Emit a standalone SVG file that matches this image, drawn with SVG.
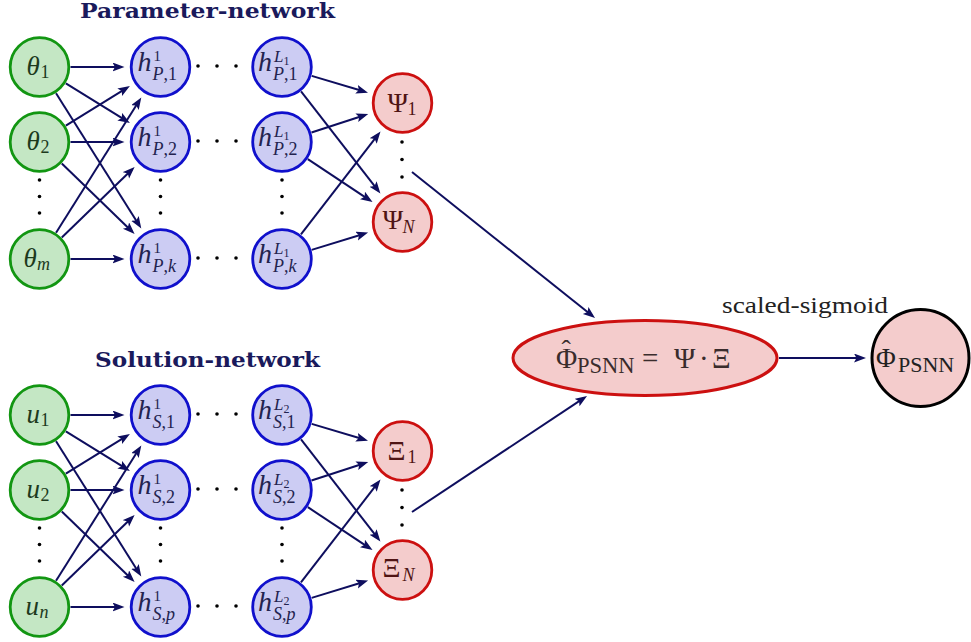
<svg xmlns="http://www.w3.org/2000/svg" width="971" height="642" viewBox="0 0 971 642">
  <defs>
    <style>
      text { font-family: "Liberation Serif", "DejaVu Serif", serif; }
      .title { font-family: "DejaVu Serif", "Liberation Serif", serif; font-weight: bold; font-size: 20.5px; fill: #1a1a5c; }
      .in circle { fill: #c4e7c4; stroke: #129612; stroke-width: 2.8; }
      .in text { fill: #1d3a1d; }
      .hid circle { fill: #ccccf3; stroke: #1010cc; stroke-width: 2.8; }
      .hid text { fill: #23234f; }
      .out circle { fill: #f4cccc; stroke: #cc1010; stroke-width: 2.8; }
      .out text { fill: #4f1414; }
      .i { font-style: italic; }
      .big { font-size: 28px; }
      .mid { font-size: 27px; }
      .sub { font-size: 18px; }
      .sup { font-size: 15px; }
      .supL { font-size: 17px; }
      .tiny { font-size: 12px; }
      .edges line { stroke: #0e0e5e; stroke-width: 2; marker-end: url(#ah); }
      .dots circle { fill: #000; }
      .lbl { font-size: 24px; fill: #222; }
    </style>
    <marker id="ah" markerUnits="userSpaceOnUse" markerWidth="14" markerHeight="10" viewBox="0 0 14 10" refX="8" refY="4.5" orient="auto">
      <path d="M0,0 L12,4.5 L0,9 L2.5,4.5 z" fill="#0e0e5e"/>
    </marker>
  </defs>

  <!-- section titles -->
  <text class="title" x="80" y="18" textLength="255" lengthAdjust="spacingAndGlyphs">Parameter-network</text>
  <text class="title" x="95" y="366.5" textLength="225" lengthAdjust="spacingAndGlyphs">Solution-network</text>

  <!-- connectors -->
  <g id="connectors" class="edges">
    <g id="param-edges">
      <line x1="70.5" y1="67" x2="120.5" y2="67"/>
      <line x1="65.85" y1="83.33" x2="126.5" y2="120.93"/>
      <line x1="56.03" y1="93.23" x2="139.17" y2="225.16"/>
      <line x1="65.85" y1="125.67" x2="126.5" y2="88.07"/>
      <line x1="70.5" y1="142" x2="120.5" y2="142"/>
      <line x1="61.79" y1="163.55" x2="131.74" y2="231.2"/>
      <line x1="56.03" y1="232.77" x2="139.17" y2="100.84"/>
      <line x1="61.79" y1="237.45" x2="131.74" y2="169.8"/>
      <line x1="70.5" y1="259" x2="120.5" y2="259"/>
      <line x1="311.7" y1="75.87" x2="364.17" y2="91.55"/>
      <line x1="301.03" y1="91.47" x2="377.95" y2="190.42"/>
      <line x1="311.49" y1="132.45" x2="364.44" y2="115.32"/>
      <line x1="307.83" y1="159.15" x2="369.18" y2="199.88"/>
      <line x1="300.95" y1="234.47" x2="378.05" y2="134.66"/>
      <line x1="311.64" y1="249.9" x2="364.26" y2="233.74"/>
    </g>
    <g id="solution-edges" transform="translate(0,348)">
      <line x1="70.5" y1="67" x2="120.5" y2="67"/>
      <line x1="65.85" y1="83.33" x2="126.5" y2="120.93"/>
      <line x1="56.03" y1="93.23" x2="139.17" y2="225.16"/>
      <line x1="65.85" y1="125.67" x2="126.5" y2="88.07"/>
      <line x1="70.5" y1="142" x2="120.5" y2="142"/>
      <line x1="61.79" y1="163.55" x2="131.74" y2="231.2"/>
      <line x1="56.03" y1="232.77" x2="139.17" y2="100.84"/>
      <line x1="61.79" y1="237.45" x2="131.74" y2="169.8"/>
      <line x1="70.5" y1="259" x2="120.5" y2="259"/>
      <line x1="311.7" y1="75.87" x2="364.17" y2="91.55"/>
      <line x1="301.03" y1="91.47" x2="377.95" y2="190.42"/>
      <line x1="311.49" y1="132.45" x2="364.44" y2="115.32"/>
      <line x1="307.83" y1="159.15" x2="369.18" y2="199.88"/>
      <line x1="300.95" y1="234.47" x2="378.05" y2="134.66"/>
      <line x1="311.64" y1="249.9" x2="364.26" y2="233.74"/>
    </g>
    <g id="merge-edges">
      <line x1="412" y1="172" x2="591.9" y2="315.5"/>
      <line x1="412" y1="512" x2="583.7" y2="398.2"/>
      <line x1="779" y1="358" x2="862" y2="358"/>
      <text class="lbl" x="722" y="313" textLength="166" lengthAdjust="spacingAndGlyphs">scaled-sigmoid</text>
    </g>
  </g>

  <!-- ellipsis dots -->
  <g id="dots" class="dots">
    <circle cx="198" cy="66" r="1.8"/><circle cx="217" cy="66" r="1.8"/><circle cx="236" cy="66" r="1.8"/>
    <circle cx="198" cy="141" r="1.8"/><circle cx="217" cy="141" r="1.8"/><circle cx="236" cy="141" r="1.8"/>
    <circle cx="198" cy="258" r="1.8"/><circle cx="217" cy="258" r="1.8"/><circle cx="236" cy="258" r="1.8"/>
    <circle cx="39.5" cy="180" r="1.8"/><circle cx="39.5" cy="196.5" r="1.8"/><circle cx="39.5" cy="213" r="1.8"/>
    <circle cx="160.5" cy="180" r="1.8"/><circle cx="160.5" cy="196.5" r="1.8"/><circle cx="160.5" cy="213" r="1.8"/>
    <circle cx="282" cy="180" r="1.8"/><circle cx="282" cy="196.5" r="1.8"/><circle cx="282" cy="213" r="1.8"/>
    <circle cx="402" cy="142" r="1.8"/><circle cx="402" cy="159.5" r="1.8"/><circle cx="402" cy="177" r="1.8"/>

    <circle cx="198" cy="414" r="1.8"/><circle cx="217" cy="414" r="1.8"/><circle cx="236" cy="414" r="1.8"/>
    <circle cx="198" cy="489" r="1.8"/><circle cx="217" cy="489" r="1.8"/><circle cx="236" cy="489" r="1.8"/>
    <circle cx="198" cy="606" r="1.8"/><circle cx="217" cy="606" r="1.8"/><circle cx="236" cy="606" r="1.8"/>
    <circle cx="39.5" cy="528" r="1.8"/><circle cx="39.5" cy="544.5" r="1.8"/><circle cx="39.5" cy="561" r="1.8"/>
    <circle cx="160.5" cy="528" r="1.8"/><circle cx="160.5" cy="544.5" r="1.8"/><circle cx="160.5" cy="561" r="1.8"/>
    <circle cx="282" cy="528" r="1.8"/><circle cx="282" cy="544.5" r="1.8"/><circle cx="282" cy="561" r="1.8"/>
    <circle cx="402" cy="490" r="1.8"/><circle cx="402" cy="507.5" r="1.8"/><circle cx="402" cy="525" r="1.8"/>
  </g>

  <!-- parameter-network inputs -->
  <g id="theta1" class="in" transform="translate(39.5,67)"><circle r="29.3"/><text><tspan class="mid i" x="-13" y="8">θ</tspan><tspan class="sub" x="1" y="11">1</tspan></text></g>
  <g id="theta2" class="in" transform="translate(39.5,142)"><circle r="29.3"/><text><tspan class="mid i" x="-13" y="8">θ</tspan><tspan class="sub" x="1" y="11">2</tspan></text></g>
  <g id="thetam" class="in" transform="translate(39.5,259)"><circle r="29.3"/><text><tspan class="mid i" x="-16" y="8">θ</tspan><tspan class="sub i" x="-2.5" y="11">m</tspan></text></g>

  <!-- parameter-network first hidden layer -->
  <g id="hP1_1" class="hid" transform="translate(160.5,67)"><circle r="29.3"/><text><tspan class="big i" x="-23" y="4">h</tspan><tspan class="sup" x="-7" y="-6">1</tspan><tspan class="sub i" x="-8" y="13">P</tspan><tspan class="sub">,1</tspan></text></g>
  <g id="hP1_2" class="hid" transform="translate(160.5,142)"><circle r="29.3"/><text><tspan class="big i" x="-23" y="4">h</tspan><tspan class="sup" x="-7" y="-6">1</tspan><tspan class="sub i" x="-8" y="13">P</tspan><tspan class="sub">,2</tspan></text></g>
  <g id="hP1_k" class="hid" transform="translate(160.5,259)"><circle r="29.3"/><text><tspan class="big i" x="-23" y="4">h</tspan><tspan class="sup" x="-7" y="-6">1</tspan><tspan class="sub i" x="-8" y="13">P</tspan><tspan class="sub">,</tspan><tspan class="sub i">k</tspan></text></g>

  <!-- parameter-network last hidden layer -->
  <g id="hPL_1" class="hid" transform="translate(282,67)"><circle r="29.3"/><text><tspan class="big i" x="-24" y="4">h</tspan><tspan class="supL i" x="-8" y="-5">L</tspan><tspan class="tiny" y="-2">1</tspan><tspan class="sub i" x="-9" y="13">P</tspan><tspan class="sub">,1</tspan></text></g>
  <g id="hPL_2" class="hid" transform="translate(282,142)"><circle r="29.3"/><text><tspan class="big i" x="-24" y="4">h</tspan><tspan class="supL i" x="-8" y="-5">L</tspan><tspan class="tiny" y="-2">1</tspan><tspan class="sub i" x="-9" y="13">P</tspan><tspan class="sub">,2</tspan></text></g>
  <g id="hPL_k" class="hid" transform="translate(282,259)"><circle r="29.3"/><text><tspan class="big i" x="-24" y="4">h</tspan><tspan class="supL i" x="-8" y="-5">L</tspan><tspan class="tiny" y="-2">1</tspan><tspan class="sub i" x="-9" y="13">P</tspan><tspan class="sub">,</tspan><tspan class="sub i">k</tspan></text></g>

  <!-- parameter-network outputs -->
  <g id="psi1" class="out" transform="translate(402.5,103)"><circle r="29.3"/><text><tspan class="big" x="-15" y="8.5">Ψ</tspan><tspan class="sub" x="5" y="12">1</tspan></text></g>
  <g id="psiN" class="out" transform="translate(402.5,222)"><circle r="29.3"/><text><tspan class="big" x="-20" y="6.5">Ψ</tspan><tspan class="sub i" x="0" y="11">N</tspan></text></g>

  <!-- solution-network inputs -->
  <g id="u1" class="in" transform="translate(39.5,415)"><circle r="29.3"/><text><tspan class="mid i" x="-13" y="8">u</tspan><tspan class="sub" x="1" y="11">1</tspan></text></g>
  <g id="u2" class="in" transform="translate(39.5,490)"><circle r="29.3"/><text><tspan class="mid i" x="-13" y="8">u</tspan><tspan class="sub" x="1" y="11">2</tspan></text></g>
  <g id="un" class="in" transform="translate(39.5,607)"><circle r="29.3"/><text><tspan class="mid i" x="-14" y="8">u</tspan><tspan class="sub i" x="0" y="11">n</tspan></text></g>

  <!-- solution-network first hidden layer -->
  <g id="hS1_1" class="hid" transform="translate(160.5,415)"><circle r="29.3"/><text><tspan class="big i" x="-23" y="4">h</tspan><tspan class="sup" x="-7" y="-6">1</tspan><tspan class="sub i" x="-8" y="13">S</tspan><tspan class="sub">,1</tspan></text></g>
  <g id="hS1_2" class="hid" transform="translate(160.5,490)"><circle r="29.3"/><text><tspan class="big i" x="-23" y="4">h</tspan><tspan class="sup" x="-7" y="-6">1</tspan><tspan class="sub i" x="-8" y="13">S</tspan><tspan class="sub">,2</tspan></text></g>
  <g id="hS1_p" class="hid" transform="translate(160.5,607)"><circle r="29.3"/><text><tspan class="big i" x="-23" y="4">h</tspan><tspan class="sup" x="-7" y="-6">1</tspan><tspan class="sub i" x="-8" y="13">S</tspan><tspan class="sub">,</tspan><tspan class="sub i">p</tspan></text></g>

  <!-- solution-network last hidden layer -->
  <g id="hSL_1" class="hid" transform="translate(282,415)"><circle r="29.3"/><text><tspan class="big i" x="-24" y="4">h</tspan><tspan class="supL i" x="-8" y="-5">L</tspan><tspan class="tiny" y="-2">2</tspan><tspan class="sub i" x="-9" y="13">S</tspan><tspan class="sub">,1</tspan></text></g>
  <g id="hSL_2" class="hid" transform="translate(282,490)"><circle r="29.3"/><text><tspan class="big i" x="-24" y="4">h</tspan><tspan class="supL i" x="-8" y="-5">L</tspan><tspan class="tiny" y="-2">2</tspan><tspan class="sub i" x="-9" y="13">S</tspan><tspan class="sub">,2</tspan></text></g>
  <g id="hSL_p" class="hid" transform="translate(282,607)"><circle r="29.3"/><text><tspan class="big i" x="-24" y="4">h</tspan><tspan class="supL i" x="-8" y="-5">L</tspan><tspan class="tiny" y="-2">2</tspan><tspan class="sub i" x="-9" y="13">S</tspan><tspan class="sub">,</tspan><tspan class="sub i">p</tspan></text></g>

  <!-- solution-network outputs -->
  <g id="xi1" class="out" transform="translate(402.5,451)"><circle r="29.3"/><text><tspan class="big" x="-15" y="8.5">Ξ</tspan><tspan class="sub" x="5" y="12">1</tspan></text></g>
  <g id="xiN" class="out" transform="translate(402.5,570)"><circle r="29.3"/><text><tspan class="big" x="-20" y="6.5">Ξ</tspan><tspan class="sub i" x="0" y="11">N</tspan></text></g>

  <!-- product of both networks -->
  <g id="product">
    <ellipse cx="645" cy="358" rx="132" ry="37.5" fill="#f4cccc" stroke="#cc1010" stroke-width="3"/>
    <text fill="#3a2c2c"><tspan x="561.5" y="359" font-size="28">ˆ</tspan><tspan x="556" y="368" font-size="29">Φ</tspan><tspan x="577" y="373" font-size="22.5">PSNN</tspan><tspan x="642" y="368" font-size="29">=</tspan><tspan x="674" y="368" font-size="29">Ψ</tspan><tspan x="699" y="368" font-size="29">·</tspan><tspan x="712" y="368" font-size="29">Ξ</tspan></text>
  </g>

  <!-- final output -->
  <g id="phi">
    <circle cx="920.5" cy="358" r="48.5" fill="#f4cccc" stroke="#000" stroke-width="3"/>
    <text fill="#222"><tspan x="876" y="367" font-size="27">Φ</tspan><tspan x="898" y="372" font-size="22">PSNN</tspan></text>
  </g>
</svg>
